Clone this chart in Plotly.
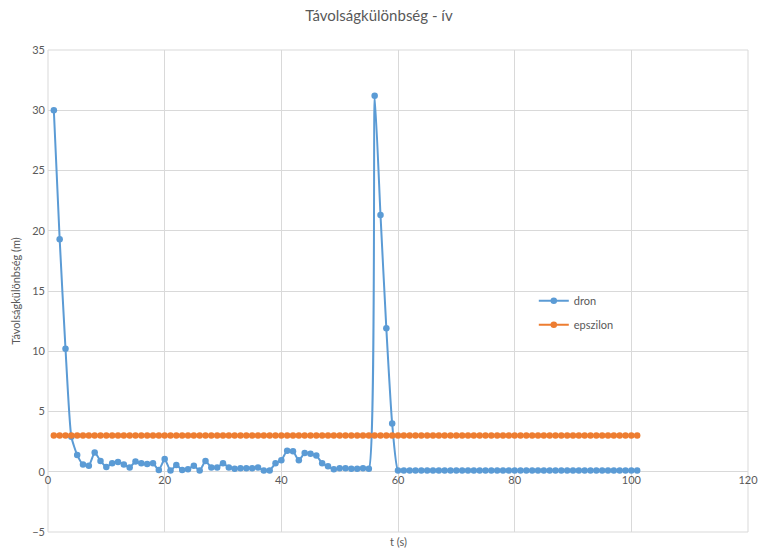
import plotly.graph_objects as go

t = list(range(1, 102))
dron = [30.0, 19.3, 10.2, 2.9, 1.4, 0.6, 0.5, 1.6, 0.9, 0.4,
        0.7, 0.8, 0.6, 0.35, 0.85, 0.7, 0.65, 0.7, 0.15, 1.05,
        0.1, 0.55, 0.15, 0.2, 0.5, 0.1, 0.9, 0.35, 0.35, 0.7,
        0.35, 0.25, 0.3, 0.3, 0.3, 0.35, 0.1, 0.1, 0.7, 0.95,
        1.75, 1.7, 0.95, 1.55, 1.5, 1.35, 0.7, 0.45, 0.2, 0.3,
        0.3, 0.25, 0.25, 0.3, 0.25, 31.2, 21.3, 11.9, 4.0] + [0.1] * 42
epszilon = [3.0] * 101

title_text = "Távolságkülönbség - ív"
x_title = "t (s)"
y_title = "Távolságkülönbség (m)"
x_ticks = [0, 20, 40, 60, 80, 100, 120]
y_ticks = [-5, 0, 5, 10, 15, 20, 25, 30, 35]

FONT = "Lato, 'Open Sans', sans-serif"
TXT = "#595959"
GRID = "#d9d9d9"

fig = go.Figure()
fig.add_trace(go.Scatter(x=t, y=dron, name="dron", mode="lines+markers",
                         legendgroup="a",
                         line=dict(color="#5b9bd5", width=2, shape="spline", smoothing=0.5),
                         marker=dict(color="#5b9bd5", size=6.5)))
fig.add_trace(go.Scatter(x=t, y=epszilon, name="epszilon", mode="lines+markers",
                         legendgroup="b",
                         line=dict(color="#ed7d31", width=2),
                         marker=dict(color="#ed7d31", size=6.5)))

fig.update_layout(
    width=758, height=554,
    margin=dict(l=48, r=10, t=50, b=22, autoexpand=False),
    paper_bgcolor="white", plot_bgcolor="white",
    font=dict(family=FONT, color=TXT, size=11),
    title=dict(text=title_text, x=0.5, xref="container", xanchor="center",
               y=1 - 16 / 554, yanchor="middle", font=dict(size=15, color=TXT)),
    showlegend=True,
    legend=dict(x=0.694, y=0.51, xanchor="left", yanchor="top",
                traceorder="grouped", tracegroupgap=5, itemwidth=30,
                bgcolor="rgba(0,0,0,0)", font=dict(size=11, color=TXT)),
    xaxis=dict(range=[0, 120], tickvals=x_ticks, showgrid=True, gridcolor=GRID,
               gridwidth=1, zeroline=False, showline=False, ticks="",
               automargin=False, ticklabeloverflow="allow",
               anchor="free", position=0.125, tickfont=dict(size=11, color=TXT)),
    yaxis=dict(range=[-5, 35], tickvals=y_ticks, showgrid=True, gridcolor=GRID,
               gridwidth=1, zeroline=True, zerolinecolor=GRID, zerolinewidth=1,
               showline=False, ticks="", anchor="free", position=0,
               automargin=False, ticklabelstandoff=3,
               title=dict(text=y_title, standoff=8, font=dict(size=11, color=TXT)),
               tickfont=dict(size=11, color=TXT)),
    shapes=[dict(type="rect", xref="paper", yref="paper", x0=0, x1=1, y0=0, y1=1,
                 line=dict(color=GRID, width=1), layer="below")],
    annotations=[dict(text=x_title, x=0.5, xref="paper", y=(532 - 541) / 482,
                      yref="paper", yanchor="middle", showarrow=False,
                      font=dict(size=11, color=TXT))],
)

fig.write_html("out.html")
